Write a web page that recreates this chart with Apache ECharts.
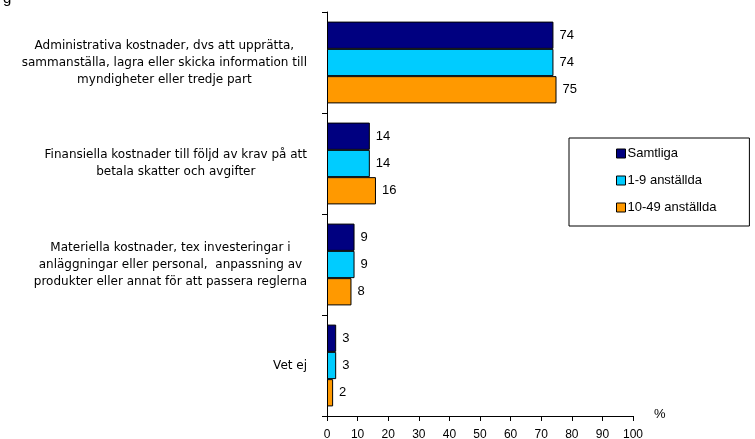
<!DOCTYPE html>
<html><head><meta charset="utf-8">
<script src="https://cdn.jsdelivr.net/npm/echarts@6/dist/echarts.min.js"></script>
<style>html,body{margin:0;padding:0;background:#fff}#c{width:755px;height:439px}</style>
</head><body><div id="c"></div>
<script>
var categories = [
  ["Administrativa kostnader, dvs att upprätta,", "sammanställa, lagra eller skicka information till", "myndigheter eller tredje part"],
  ["Finansiella kostnader till följd av krav på att", "betala skatter och avgifter"],
  ["Materiella kostnader, tex investeringar i", "anläggningar eller personal,  anpassning av", "produkter eller annat för att passera reglerna"],
  ["Vet ej"]
];
var seriesNames = ["Samtliga", "1-9 anställda", "10-49 anställda"];
var samtliga = [74, 14, 9, 3];
var small = [74, 14, 9, 3];
var medium = [75, 16, 8, 2];
var xTicks = {min: 0, max: 100, interval: 10};
var colors = ["#000080", "#00CCFF", "#FF9900"];

var catKeys = categories.map(function (c, i) { return String(i); });
var chart = echarts.init(document.getElementById('c'), null, {renderer: 'canvas'});
function mk(name, data, color) {
  return {
    name: name, type: 'bar', data: data, barGap: 0, barCategoryGap: '19%',
    itemStyle: {color: color, borderColor: '#000', borderWidth: 1},
    label: {show: true, position: 'right', distance: 6, color: '#000', fontFamily: 'Liberation Sans, Arial', fontSize: 13},
    animation: false
  };
}
chart.setOption({
  animation: false,
  grid: {left: 327, right: 122, top: 12, bottom: 23, containLabel: false, outerBoundsMode: 'none'},
  xAxis: {
    type: 'value', min: xTicks.min, max: xTicks.max, interval: xTicks.interval,
    axisLine: {show: true, lineStyle: {color: '#000', width: 1}},
    axisTick: {show: true, length: 5, lineStyle: {color: '#000'}},
    axisLabel: {color: '#000', fontFamily: 'Liberation Sans, Arial', fontSize: 12, margin: 13},
    splitLine: {show: false}
  },
  yAxis: {
    type: 'category', data: catKeys, inverse: true,
    axisLine: {show: true, lineStyle: {color: '#000', width: 1}},
    axisTick: {show: true, length: 5, lineStyle: {color: '#000'}},
    axisLabel: {
      margin: 20, color: '#000', fontFamily: 'DejaVu Sans, Verdana', fontSize: 12,
      formatter: function (v) {
        return categories[+v].map(function (l) { return '{c|' + l + '}'; }).join('\n');
      },
      rich: {c: {align: 'center', lineHeight: 17, fontFamily: 'DejaVu Sans, Verdana', fontSize: 12, color: '#000'}}
    }
  },
  legend: {
    orient: 'vertical', left: 569, top: 138,
    data: seriesNames,
    itemWidth: 9, itemHeight: 9, itemGap: 14,
    padding: [9, 33, 12, 47],
    borderColor: '#000', borderWidth: 1, backgroundColor: '#fff', borderRadius: 0,
    textStyle: {color: '#000', fontFamily: 'Liberation Sans, Arial', fontSize: 13, padding: [0, 0, 0, -3]},
    icon: 'rect',
    itemStyle: {borderColor: '#000', borderWidth: 1}
  },
  graphic: [
    {type: 'text', left: 654, top: 408, style: {text: '%', fill: '#000', font: '13px Liberation Sans, Arial'}},
    {type: 'text', left: 3, top: -9, style: {text: 'g', fill: '#000', font: '15px Liberation Sans, Arial'}}
  ],
  series: [mk(seriesNames[0], samtliga, colors[0]), mk(seriesNames[1], small, colors[1]), mk(seriesNames[2], medium, colors[2])]
});
</script></body></html>
